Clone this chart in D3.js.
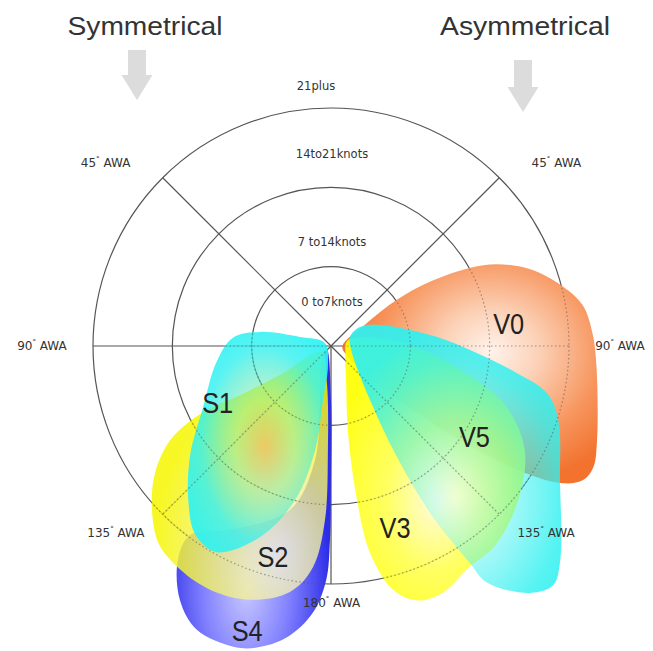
<!DOCTYPE html>
<html>
<head>
<meta charset="utf-8">
<script src="https://cdn.jsdelivr.net/npm/d3@7"></script>
<style>
  body { margin: 0; background: #fff; }
  svg { display: block; font-family: "Liberation Sans", Arial, sans-serif; }
</style>
</head>
<body>
<div id="chart"></div>
<script>
// wind speed rings (knots) and their band labels
const speedRings = [7, 14, 21];
const ringLabels = ["0 to7knots", "7 to14knots", "14to21knots", "21plus"];
// apparent wind angle spokes
const awaSpokes = [45, 90, 135, 180];
const sideTitles = ["Symmetrical", "Asymmetrical"];

// sail zones as [AWA degrees, wind knots]; S sails on the left, V sails on the right
const V0 = [[92,1.0],[58,3.5],[55,7.1],[57,10.4],[60.7,14.1],[63.7,16.3],[68.8,18.8],[75.5,21.1],[80.8,22.5],[87.2,23.1],[94.5,23.5],[109.5,24.9],[114.8,25.5],[118,25.2],[120.6,23.8],[123.3,20.3],[126.1,14.1],[128.1,8.9],[129.4,4.4],[122.9,1.8]];
const V3 = [[70.6,1.6],[86.7,6.1],[100.5,11.6],[108.7,16.2],[118.2,19.4],[129.5,21.4],[140.5,22.8],[147.8,23.0],[155.6,23.9],[161.3,23.7],[165.7,22.2],[169.3,18.6],[170.4,13.8],[168.9,7.8],[156.2,3.3],[122.7,1.5]];
const V5 = [[64.6,1.85],[56.8,3.06],[66.8,4.7],[83.7,8.8],[90.4,11.65],[98.3,16.6],[102.3,19.5],[108.1,21.1],[120.3,23.4],[133.1,27.7],[137.1,28.8],[141.1,28.0],[146.6,25.0],[147.4,22.7],[149.3,17.1],[149.3,11.4],[144.2,5.9],[105.9,1.9]];
const S4 = [[135,0.5],[180,4.8],[180,11.8],[179.7,17.1],[178.8,20.7],[176.1,23.6],[171.4,26.0],[166.2,27.4],[162,27.9],[154.7,27.7],[149.3,26.1],[144.4,23.2],[143.3,20.8],[151.2,18.5],[166,14.9],[172,10.2],[168.5,4.9],[147.3,1.5]];
const S2 = [[123.7,0.95],[119.6,5.2],[118.3,9.1],[117.3,12.7],[120.3,16.4],[126.2,19.3],[133.4,21.7],[139.3,23.2],[146,23.8],[153.6,24.0],[162.3,23.5],[170.5,22.0],[175.3,19.6],[178,15.4],[178.3,9.2],[173.8,3.3]];
const S1 = [[63.4,0.6],[73.8,2.85],[78.8,6.4],[85.3,8.7],[98,10.2],[115.5,12.5],[127.7,15.7],[137.1,18.5],[144.3,20.5],[151,20.8],[159.6,18.0],[166.8,14.0],[171.3,9.3],[171.6,4.8],[171,1.7]];

const width = 653, height = 651;
const cx = 331, cy = 346;
const r = d3.scaleLinear().domain([0, 21]).range([0, 238]);
const rad = d => d * Math.PI / 180;
const pt = (awa, kn, side) => [cx + side * r(kn) * Math.sin(rad(awa)), cy - r(kn) * Math.cos(rad(awa))];

const svg = d3.select("#chart").append("svg")
    .attr("width", width)
    .attr("height", height)
    .attr("viewBox", [0, 0, width, height]);

const defs = svg.append("defs");
// [offset, colour, opacity]
const grads = {
    V0: {cx: 0.58, cy: 0.4, r: 0.62, stops: [[0, "#fff3ec", 1], [0.3, "#fcd2b8", 1], [0.7, "#f7945c", 1], [1, "#f2722e", 1]]},
    V3: {cx: 0.5, cy: 0.62, r: 0.6, stops: [[0, "#fffbd8", 0.9], [0.45, "#ffff50", 0.9], [1, "#ffff00", 0.92]]},
    V5: {cx: 0.5, cy: 0.64, r: 0.62, stops: [[0, "#e0fffa", 0.5], [0.45, "#40f0f0", 0.5], [0.8, "#2ff0f0", 0.8], [1, "#2ff0f0", 0.92]]},
    S4: {cx: 0.45, cy: 0.8, r: 0.55, stops: [[0, "#c8c8ff", 1], [0.5, "#8282ff", 1], [1, "#2c2ce8", 1]]},
    S2: {cx: 0.72, cy: 0.82, r: 0.7, stops: [[0, "#f6f4e2", 0.8], [0.4, "#f2f090", 0.8], [1, "#f6f600", 0.85]]},
    S1: {cx: 0.55, cy: 0.52, r: 0.6, stops: [[0, "#e0a050", 0.5], [0.35, "#80e8a0", 0.5], [0.75, "#30f0f0", 0.8], [1, "#2ef2f2", 0.92]]}
};
Object.entries(grads).forEach(([id, g]) => {
    const lg = defs.append("radialGradient").attr("id", "g" + id)
        .attr("cx", g.cx).attr("cy", g.cy).attr("r", g.r).attr("fx", g.cx).attr("fy", g.cy);
    g.stops.forEach(s => lg.append("stop").attr("offset", s[0]).attr("stop-color", s[1]).attr("stop-opacity", s[2]));
});

function drawGrid(g, dotted) {
    g.selectAll("circle")
        .data(speedRings)
        .join("circle")
        .attr("cx", cx).attr("cy", cy)
        .attr("r", d => r(d))
        .attr("fill", "none");
    const spokes = [];
    awaSpokes.forEach(a => { spokes.push([a, 1]); if (a < 180) spokes.push([a, -1]); });
    g.selectAll("line")
        .data(spokes)
        .join("line")
        .attr("x1", cx).attr("y1", cy)
        .attr("x2", d => pt(d[0], 21, d[1])[0])
        .attr("y2", d => pt(d[0], 21, d[1])[1]);
    g.attr("stroke", "#555").attr("stroke-width", 1.2);
    if (dotted) g.attr("stroke-dasharray", "1.5,2.5").attr("stroke-opacity", 0.55);
}

drawGrid(svg.append("g"), false);

const sails = [
    {name: "V0", pts: V0, side: 1},
    {name: "V3", pts: V3, side: 1},
    {name: "V5", pts: V5, side: 1},
    {name: "S4", pts: S4, side: -1},
    {name: "S2", pts: S2, side: -1},
    {name: "S1", pts: S1, side: -1}
];

const shape = side => d3.lineRadial()
    .angle(d => side * rad(d[0]))
    .radius(d => r(d[1]))
    .curve(d3.curveCatmullRomClosed.alpha(0.5));

svg.append("g")
    .attr("transform", `translate(${cx},${cy})`)
    .selectAll("path")
    .data(sails)
    .join("path")
    .attr("d", d => shape(d.side)(d.pts))
    .attr("fill", d => `url(#g${d.name})`);

// grid seen through the sails as dotted lines
defs.append("clipPath").attr("id", "sailClip")
    .selectAll("path")
    .data(sails)
    .join("path")
    .attr("transform", `translate(${cx},${cy})`)
    .attr("d", d => shape(d.side)(d.pts));
drawGrid(svg.append("g").attr("clip-path", "url(#sailClip)"), true);

// sail names, placed in polar terms
const sailLabelAt = {V0: [82.9, 15.8, 1], V5: [122.5, 15.0, 1], V3: [160.6, 17.0, 1],
    S1: [116.8, 11.2, -1], S2: [164.6, 19.3, -1], S4: [163.6, 26.2, -1]};
svg.append("g")
    .selectAll("text")
    .data(sails)
    .join("text")
    .attr("x", d => pt(...sailLabelAt[d.name])[0])
    .attr("y", d => pt(...sailLabelAt[d.name])[1])
    .attr("text-anchor", "middle")
    .attr("dominant-baseline", "central")
    .attr("font-size", 29)
    .attr("textLength", 31)
    .attr("lengthAdjust", "spacingAndGlyphs")
    .attr("fill", "#222")
    .text(d => d.name);

// AWA labels
const awaLabelAt = {45: [51, 290], 90: [90, 289], 135: [131, 285], 180: [179, 257]};
const awaItems = [];
awaSpokes.forEach(a => { awaItems.push([a, -1]); if (a < 180) awaItems.push([a, 1]); });
const awaText = svg.append("g")
    .selectAll("text")
    .data(awaItems)
    .join("text")
    .attr("x", d => cx + d[1] * awaLabelAt[d[0]][1] * Math.sin(rad(awaLabelAt[d[0]][0])) + (d[0] === 180 ? 5 : 0))
    .attr("y", d => cy - awaLabelAt[d[0]][1] * Math.cos(rad(awaLabelAt[d[0]][0])))
    .attr("text-anchor", "middle")
    .attr("dominant-baseline", "central")
    .attr("font-family", "'DejaVu Sans', sans-serif")
    .attr("font-size", 12)
    .attr("fill", "#333");
awaText.append("tspan").text(d => d[0]);
awaText.append("tspan").attr("font-size", 7).attr("dy", -4).text("°");
awaText.append("tspan").attr("dy", 4).text(" AWA");

// knot band labels
const ringLabelAt = [3.9, 9.2, 16.9, 22.9];
svg.append("g")
    .selectAll("text")
    .data(ringLabels)
    .join("text")
    .attr("x", (d, i) => cx + (i === 3 ? -15 : 1))
    .attr("y", (d, i) => cy - r(ringLabelAt[i]))
    .attr("text-anchor", "middle")
    .attr("dominant-baseline", "central")
    .attr("font-family", "'DejaVu Sans', sans-serif")
    .attr("font-size", 11.5)
    .attr("fill", "#333")
    .text(d => d);

// side titles with arrows
const titleX = [145, 525];
const titleW = [155, 170];
const arrowAt = [[137, 50, 100], [523, 60, 112]];
svg.append("g")
    .selectAll("text")
    .data(sideTitles)
    .join("text")
    .attr("x", (d, i) => titleX[i])
    .attr("y", 35)
    .attr("text-anchor", "middle")
    .attr("font-size", 25)
    .attr("textLength", (d, i) => titleW[i])
    .attr("lengthAdjust", "spacingAndGlyphs")
    .attr("fill", "#333")
    .text(d => d);

svg.append("g")
    .selectAll("path")
    .data(arrowAt)
    .join("path")
    .attr("d", ([x, y0, y1]) => {
        const mid = y1 - 25;
        return `M${x - 9},${y0}H${x + 9}V${mid}H${x + 15.5}L${x},${y1}L${x - 15.5},${mid}H${x - 9}Z`;
    })
    .attr("fill", "#dcdcdc");
</script>
</body>
</html>
